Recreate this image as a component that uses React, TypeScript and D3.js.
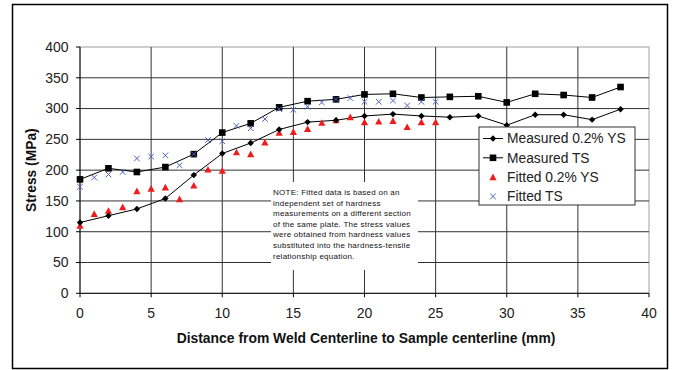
import React from "react";
import * as d3 from "d3";

// Distances (mm) from the weld centerline
const measuredDist = [0, 2, 4, 6, 8, 10, 12, 14, 16, 18, 20, 22, 24, 26, 28, 30, 32, 34, 36, 38];
const measuredYS = [115, 126, 137, 154, 192, 227, 244, 266, 278, 281, 288, 291, 288, 286, 288, 273, 290, 290, 282, 299];
const measuredTS = [185, 203, 197, 205, 226, 261, 276, 302, 312, 315, 323, 324, 318, 319, 320, 310, 324, 322, 318, 335];

const fittedDist = [0, 1, 2, 3, 4, 5, 6, 7, 8, 9, 10, 11, 12, 13, 14, 15, 16, 17, 18, 19, 20, 21, 22, 23, 24, 25];
const fittedYS = [110, 129, 134, 140, 166, 170, 172, 153, 175, 201, 199, 229, 226, 245, 261, 262, 267, 277, 281, 286, 278, 279, 280, 270, 278, 278];
const fittedTS = [173, 188, 193, 197, 219, 222, 224, 208, 226, 249, 247, 272, 268, 283, 299, 298, 303, 310, 315, 317, 311, 311, 313, 305, 311, 311];

const xTicks = [0, 5, 10, 15, 20, 25, 30, 35, 40];
const yTicks = [0, 50, 100, 150, 200, 250, 300, 350, 400];

const legendLabels = ["Measured 0.2% YS", "Measured TS", "Fitted 0.2% YS", "Fitted TS"];

const noteLines = [
  "NOTE: Fitted data is based on an",
  "independent set of hardness",
  "measurements on a different section",
  "of the same plate. The stress values",
  "were obtained from hardness values",
  "substituted into the hardness-tensile",
  "relationship equation.",
];

const W = 673;
const H = 370;
const plot = { left: 80, right: 649, top: 47, bottom: 293.3 };
const FONT = "Arial, 'Liberation Sans', Helvetica, sans-serif";
const BLUE = "#5060c0";
const RED = "#ee1c1c";

function Diamond({ x, y }: { x: number; y: number }) {
  const s = 3.2;
  return <path d={`M${x},${y - s}L${x + s},${y}L${x},${y + s}L${x - s},${y}Z`} fill="#000" />;
}
function Square({ x, y }: { x: number; y: number }) {
  const s = 3.3;
  return <rect x={x - s} y={y - s} width={2 * s} height={2 * s} fill="#000" />;
}
function Triangle({ x, y }: { x: number; y: number }) {
  const s = 3.6;
  return <path d={`M${x},${y - s}L${x + s},${y + s * 0.85}L${x - s},${y + s * 0.85}Z`} fill={RED} />;
}
function Cross({ x, y }: { x: number; y: number }) {
  const s = 2.8;
  return (
    <path
      d={`M${x - s},${y - s}L${x + s},${y + s}M${x - s},${y + s}L${x + s},${y - s}`}
      stroke={BLUE}
      strokeWidth={1}
      fill="none"
    />
  );
}

export default function App() {
  const x = d3.scaleLinear().domain([0, 40]).range([plot.left, plot.right]);
  const y = d3.scaleLinear().domain([0, 400]).range([plot.bottom, plot.top]);

  const line = d3
    .line<[number, number]>()
    .x((d) => x(d[0]))
    .y((d) => y(d[1]));

  const ysPts = measuredDist.map((d, i) => [d, measuredYS[i]] as [number, number]);
  const tsPts = measuredDist.map((d, i) => [d, measuredTS[i]] as [number, number]);

  // White panel that holds the note, sitting over the gridlines
  const note = { x: 271, y: 182, w: 147, h: 88 };
  const legend = { x: 479, y: 127, w: 156, h: 78 };

  return (
    <svg width={W} height={H} style={{ position: "absolute", left: 0, top: 0 }} fontFamily={FONT}>
      <rect x={0} y={0} width={W} height={H} fill="#fff" />
      <rect x={12.5} y={4.5} width={655} height={364} fill="#fff" stroke="#000" strokeWidth={1.5} />

      {/* plot area border */}
      <rect
        x={plot.left}
        y={plot.top}
        width={plot.right - plot.left}
        height={plot.bottom - plot.top}
        fill="#fff"
        stroke="#a0a0a0"
        strokeWidth={1}
      />

      {/* gridlines */}
      {yTicks.slice(1, -1).map((t) => (
        <line key={"gy" + t} x1={plot.left} x2={plot.right} y1={y(t)} y2={y(t)} stroke="#333" strokeWidth={1} />
      ))}
      {xTicks.slice(1, -1).map((t) => (
        <line key={"gx" + t} x1={x(t)} x2={x(t)} y1={plot.top} y2={plot.bottom} stroke="#333" strokeWidth={1} />
      ))}

      {/* axes */}
      <line x1={plot.left} x2={plot.left} y1={plot.top} y2={plot.bottom} stroke="#000" strokeWidth={1} />
      <line x1={plot.left} x2={plot.right} y1={plot.bottom} y2={plot.bottom} stroke="#000" strokeWidth={1} />
      {yTicks.map((t) => (
        <g key={"ty" + t}>
          <line x1={plot.left - 4} x2={plot.left} y1={y(t)} y2={y(t)} stroke="#000" />
          <text x={plot.left - 11.5} y={y(t)} dy="0.35em" textAnchor="end" fontSize={14} fill="#222">
            {t}
          </text>
        </g>
      ))}
      {xTicks.map((t) => (
        <g key={"tx" + t}>
          <line x1={x(t)} x2={x(t)} y1={plot.bottom} y2={plot.bottom + 4} stroke="#000" />
          <text x={x(t)} y={313.5} dy="0.35em" textAnchor="middle" fontSize={14} fill="#222">
            {t}
          </text>
        </g>
      ))}

      {/* axis titles */}
      <text
        transform={`translate(36,${(plot.top + plot.bottom) / 2}) rotate(-90)`}
        textAnchor="middle"
        fontSize={13.8}
        fontWeight="bold"
        fill="#111"
      >
        Stress (MPa)
      </text>
      <text x={366} y={342.5} textAnchor="middle" fontSize={13.9} fontWeight="bold" fill="#111">
        Distance from Weld Centerline to Sample centerline (mm)
      </text>

      {/* note */}
      <rect x={note.x} y={note.y} width={note.w} height={note.h} fill="#fff" />
      {noteLines.map((s, i) => (
        <text key={"n" + i} x={273} y={195 + i * 10.6} fontSize={8} letterSpacing={0.25} fill="#111">
          {s}
        </text>
      ))}

      {/* measured series */}
      <path d={line(ysPts) || ""} fill="none" stroke="#000" strokeWidth={1} />
      <path d={line(tsPts) || ""} fill="none" stroke="#000" strokeWidth={1} />

      {/* fitted series */}
      {fittedDist.map((d, i) => (
        <Triangle key={"fy" + i} x={x(d)} y={y(fittedYS[i])} />
      ))}
      {measuredDist.map((d, i) => (
        <Diamond key={"my" + i} x={x(d)} y={y(measuredYS[i])} />
      ))}
      {measuredDist.map((d, i) => (
        <Square key={"mt" + i} x={x(d)} y={y(measuredTS[i])} />
      ))}
      {fittedDist.map((d, i) => (
        <Cross key={"ft" + i} x={x(d)} y={y(fittedTS[i])} />
      ))}

      {/* legend */}
      <rect x={legend.x} y={legend.y} width={legend.w} height={legend.h} fill="#fff" stroke="#333" strokeWidth={1} />
      {legendLabels.map((lab, i) => {
        const cy = legend.y + 11.5 + i * 19.3;
        const mx = 493;
        return (
          <g key={"lg" + i}>
            {i < 2 && <line x1={483} x2={503} y1={cy} y2={cy} stroke="#000" />}
            {i === 0 && <Diamond x={mx} y={cy} />}
            {i === 1 && <Square x={mx} y={cy} />}
            {i === 2 && <Triangle x={mx} y={cy} />}
            {i === 3 && <Cross x={mx} y={cy} />}
            <text x={507} y={cy} dy="0.36em" fontSize={13.8} fill="#222">
              {lab}
            </text>
          </g>
        );
      })}
    </svg>
  );
}
